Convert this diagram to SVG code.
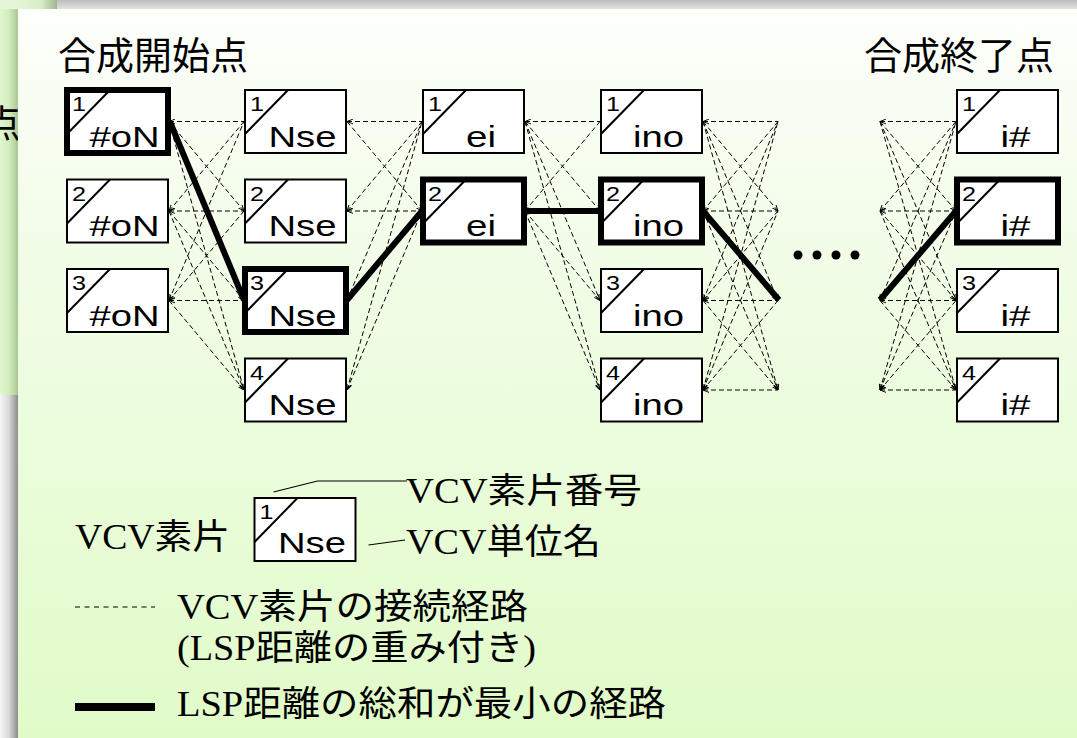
<svg xmlns="http://www.w3.org/2000/svg" width="1077" height="738" viewBox="0 0 1077 738">
<defs>
<linearGradient id="gPanel" x1="0" y1="0" x2="0" y2="1">
<stop offset="0" stop-color="#fdfffb"/>
<stop offset="0.35" stop-color="#f1fde7"/>
<stop offset="1" stop-color="#e1fbc8"/>
</linearGradient>
<linearGradient id="gTop" x1="0" y1="0" x2="0" y2="1">
<stop offset="0" stop-color="#bcbcbc"/>
<stop offset="1" stop-color="#e2e2e2"/>
</linearGradient>
<linearGradient id="gLeftGrey" x1="0" y1="0" x2="1" y2="0">
<stop offset="0" stop-color="#f6f6f6"/>
<stop offset="0.5" stop-color="#d8d8d8"/>
<stop offset="1" stop-color="#8c8c8c"/>
</linearGradient>
<linearGradient id="gLeftGreen" x1="0" y1="0" x2="1" y2="0">
<stop offset="0" stop-color="#e2f6d0"/>
<stop offset="0.5" stop-color="#d2ecbc"/>
<stop offset="1" stop-color="#a9c792"/>
</linearGradient>
<linearGradient id="gCorner" x1="0" y1="0" x2="1" y2="0">
<stop offset="0" stop-color="#e6f6d8"/>
<stop offset="0.6" stop-color="#d6ecc6"/>
<stop offset="1" stop-color="#9fb590"/>
</linearGradient>
<marker id="ah" viewBox="0 0 10 10" refX="10" refY="5" markerWidth="6" markerHeight="6" markerUnits="userSpaceOnUse" orient="auto-start-reverse">
<path d="M0,1 L10,5 L0,9" fill="none" stroke="#000" stroke-width="1.6"/>
</marker>
<style>
.d { stroke:#000; stroke-width:1; stroke-dasharray:5 3; fill:none }
.s { marker-start:url(#ah) }
.e { marker-end:url(#ah) }
.node rect { fill:#fff; stroke:#000; stroke-width:2 }
.node.thick rect { stroke-width:6 }
.node line { stroke:#000; stroke-width:2 }
.num { font-family:"Liberation Sans",Arial,sans-serif; font-size:20px; fill:#000 }
.lbl { font-family:"Liberation Sans",Arial,sans-serif; font-size:30px; text-anchor:middle; fill:#000 }
.jp { font-family:"Liberation Serif","Noto Sans CJK JP",serif; font-size:38px; fill:#000 }
.lg { font-family:"Liberation Serif","Noto Sans CJK JP",serif; font-size:35px; fill:#000 }
.best { stroke:#000; stroke-width:6; fill:none }
</style>
</defs>

<!-- background -->
<rect x="0" y="0" width="1077" height="738" fill="#d4d4d4"/>
<rect x="0" y="0" width="1077" height="9" fill="url(#gTop)"/>
<rect x="0" y="395" width="18" height="343" fill="url(#gLeftGrey)"/>
<rect x="0" y="0" width="57" height="395" fill="#e4f6d4"/>
<rect x="0" y="9" width="18" height="386" fill="url(#gLeftGreen)"/>
<rect x="18" y="0" width="39" height="9" fill="url(#gCorner)"/>
<text class="jp" x="-17" y="137">点</text>
<rect x="18" y="9" width="1059" height="729" fill="url(#gPanel)"/>

<!-- titles -->
<text class="jp" x="58" y="69">合成開始点</text>
<text class="jp" x="864" y="69">合成終了点</text>

<!-- connectors -->
<g id="connectors">
<!-- #oN -> Nse -->
<line class="d s" x1="169" y1="121.5" x2="244" y2="121.5"/>
<line class="d e" x1="169" y1="121.5" x2="244" y2="211"/>
<line class="d e" x1="169" y1="121.5" x2="244" y2="300.5"/>
<line class="d e" x1="169" y1="121.5" x2="244" y2="390"/>
<line class="d s" x1="169" y1="211" x2="244" y2="121.5"/>
<line class="d s" x1="169" y1="211" x2="244" y2="211"/>
<line class="d e" x1="169" y1="211" x2="244" y2="300.5"/>
<line class="d e" x1="169" y1="211" x2="244" y2="390"/>
<line class="d s" x1="169" y1="300.5" x2="244" y2="121.5"/>
<line class="d s" x1="169" y1="300.5" x2="244" y2="211"/>
<line class="d s" x1="169" y1="300.5" x2="244" y2="300.5"/>
<line class="d e" x1="169" y1="300.5" x2="244" y2="390"/>
<!-- Nse -> ei -->
<line class="d s" x1="347" y1="121.5" x2="422" y2="121.5"/>
<line class="d e" x1="347" y1="121.5" x2="422" y2="211"/>
<line class="d s" x1="347" y1="211" x2="422" y2="121.5"/>
<line class="d s" x1="347" y1="211" x2="422" y2="211"/>
<line class="d s" x1="347" y1="300.5" x2="422" y2="121.5"/>
<line class="d s" x1="347" y1="300.5" x2="422" y2="211"/>
<line class="d s" x1="347" y1="390" x2="422" y2="121.5"/>
<line class="d s" x1="347" y1="390" x2="422" y2="211"/>
<!-- ei -> ino -->
<line class="d s" x1="525" y1="121.5" x2="600" y2="121.5"/>
<line class="d e" x1="525" y1="121.5" x2="600" y2="211"/>
<line class="d e" x1="525" y1="121.5" x2="600" y2="300.5"/>
<line class="d e" x1="525" y1="121.5" x2="600" y2="390"/>
<line class="d s" x1="525" y1="211" x2="600" y2="121.5"/>
<line class="d s" x1="525" y1="211" x2="600" y2="211"/>
<line class="d e" x1="525" y1="211" x2="600" y2="300.5"/>
<line class="d e" x1="525" y1="211" x2="600" y2="390"/>
<!-- ino -> continuation -->
<line class="d s" x1="703" y1="121.5" x2="778" y2="121.5"/>
<line class="d e" x1="703" y1="121.5" x2="778" y2="211"/>
<line class="d e" x1="703" y1="121.5" x2="778" y2="300.5"/>
<line class="d e" x1="703" y1="121.5" x2="778" y2="390"/>
<line class="d s" x1="703" y1="211" x2="778" y2="121.5"/>
<line class="d s" x1="703" y1="211" x2="778" y2="211"/>
<line class="d e" x1="703" y1="211" x2="778" y2="300.5"/>
<line class="d e" x1="703" y1="211" x2="778" y2="390"/>
<line class="d s" x1="703" y1="300.5" x2="778" y2="121.5"/>
<line class="d s" x1="703" y1="300.5" x2="778" y2="211"/>
<line class="d s" x1="703" y1="300.5" x2="778" y2="300.5"/>
<line class="d e" x1="703" y1="300.5" x2="778" y2="390"/>
<line class="d s" x1="703" y1="390" x2="778" y2="121.5"/>
<line class="d s" x1="703" y1="390" x2="778" y2="211"/>
<line class="d s" x1="703" y1="390" x2="778" y2="300.5"/>
<line class="d s" x1="703" y1="390" x2="778" y2="390"/>
<!-- continuation -> i# -->
<line class="d s" x1="880" y1="121.5" x2="956" y2="121.5"/>
<line class="d e" x1="880" y1="121.5" x2="956" y2="211"/>
<line class="d e" x1="880" y1="121.5" x2="956" y2="300.5"/>
<line class="d e" x1="880" y1="121.5" x2="956" y2="390"/>
<line class="d s" x1="880" y1="211" x2="956" y2="121.5"/>
<line class="d s" x1="880" y1="211" x2="956" y2="211"/>
<line class="d e" x1="880" y1="211" x2="956" y2="300.5"/>
<line class="d e" x1="880" y1="211" x2="956" y2="390"/>
<line class="d s" x1="880" y1="300.5" x2="956" y2="121.5"/>
<line class="d s" x1="880" y1="300.5" x2="956" y2="211"/>
<line class="d s" x1="880" y1="300.5" x2="956" y2="300.5"/>
<line class="d e" x1="880" y1="300.5" x2="956" y2="390"/>
<line class="d s" x1="880" y1="390" x2="956" y2="121.5"/>
<line class="d s" x1="880" y1="390" x2="956" y2="211"/>
<line class="d s" x1="880" y1="390" x2="956" y2="300.5"/>
<line class="d s" x1="880" y1="390" x2="956" y2="390"/>
<!-- minimum path -->
<line class="best" x1="170" y1="122" x2="244" y2="300"/>
<line class="best" x1="347" y1="300" x2="422" y2="211"/>
<line class="best" x1="525" y1="211" x2="600" y2="211"/>
<line class="best" x1="703" y1="211" x2="779" y2="300"/>
<line class="best" x1="880" y1="300" x2="956" y2="211"/>
</g>

<!-- ellipsis -->
<g id="ellipsis" fill="#000">
<circle cx="798" cy="255" r="4.5"/>
<circle cx="817" cy="255" r="4.5"/>
<circle cx="836" cy="255" r="4.5"/>
<circle cx="855" cy="255" r="4.5"/>
</g>

<!-- nodes: column #oN -->
<g id="oN1" class="node thick"><rect x="67" y="90" width="101" height="63"/><line x1="67" y1="134" x2="110" y2="90"/><text class="num" x="72" y="111" textLength="14" lengthAdjust="spacingAndGlyphs">1</text><text class="lbl" x="124.5" y="146.5" textLength="70" lengthAdjust="spacingAndGlyphs">#oN</text></g>
<g id="oN2" class="node"><rect x="67" y="179.5" width="101" height="63"/><line x1="67" y1="223.5" x2="110" y2="179.5"/><text class="num" x="72" y="200.5" textLength="14" lengthAdjust="spacingAndGlyphs">2</text><text class="lbl" x="124.5" y="236" textLength="70" lengthAdjust="spacingAndGlyphs">#oN</text></g>
<g id="oN3" class="node"><rect x="67" y="269" width="101" height="63"/><line x1="67" y1="313" x2="110" y2="269"/><text class="num" x="72" y="290" textLength="14" lengthAdjust="spacingAndGlyphs">3</text><text class="lbl" x="124.5" y="325.5" textLength="70" lengthAdjust="spacingAndGlyphs">#oN</text></g>

<!-- column Nse -->
<g id="Nse1" class="node"><rect x="245" y="90" width="101" height="63"/><line x1="245" y1="134" x2="288" y2="90"/><text class="num" x="250" y="111" textLength="14" lengthAdjust="spacingAndGlyphs">1</text><text class="lbl" x="302.5" y="146.5" textLength="68" lengthAdjust="spacingAndGlyphs">Nse</text></g>
<g id="Nse2" class="node"><rect x="245" y="179.5" width="101" height="63"/><line x1="245" y1="223.5" x2="288" y2="179.5"/><text class="num" x="250" y="200.5" textLength="14" lengthAdjust="spacingAndGlyphs">2</text><text class="lbl" x="302.5" y="236" textLength="68" lengthAdjust="spacingAndGlyphs">Nse</text></g>
<g id="Nse3" class="node thick"><rect x="245" y="269" width="101" height="63"/><line x1="245" y1="313" x2="288" y2="269"/><text class="num" x="250" y="290" textLength="14" lengthAdjust="spacingAndGlyphs">3</text><text class="lbl" x="302.5" y="325.5" textLength="68" lengthAdjust="spacingAndGlyphs">Nse</text></g>
<g id="Nse4" class="node"><rect x="245" y="358.5" width="101" height="63"/><line x1="245" y1="402.5" x2="288" y2="358.5"/><text class="num" x="250" y="379.5" textLength="14" lengthAdjust="spacingAndGlyphs">4</text><text class="lbl" x="302.5" y="415" textLength="68" lengthAdjust="spacingAndGlyphs">Nse</text></g>

<!-- column ei -->
<g id="ei1" class="node"><rect x="423" y="90" width="101" height="63"/><line x1="423" y1="134" x2="466" y2="90"/><text class="num" x="428" y="111" textLength="14" lengthAdjust="spacingAndGlyphs">1</text><text class="lbl" x="481" y="146.5" textLength="30" lengthAdjust="spacingAndGlyphs">ei</text></g>
<g id="ei2" class="node thick"><rect x="423" y="179.5" width="101" height="63"/><line x1="423" y1="223.5" x2="466" y2="179.5"/><text class="num" x="428" y="200.5" textLength="14" lengthAdjust="spacingAndGlyphs">2</text><text class="lbl" x="481" y="236" textLength="30" lengthAdjust="spacingAndGlyphs">ei</text></g>

<!-- column ino -->
<g id="ino1" class="node"><rect x="601" y="90" width="101" height="63"/><line x1="601" y1="134" x2="644" y2="90"/><text class="num" x="606" y="111" textLength="14" lengthAdjust="spacingAndGlyphs">1</text><text class="lbl" x="658.5" y="146.5" textLength="51" lengthAdjust="spacingAndGlyphs">ino</text></g>
<g id="ino2" class="node thick"><rect x="601" y="179.5" width="101" height="63"/><line x1="601" y1="223.5" x2="644" y2="179.5"/><text class="num" x="606" y="200.5" textLength="14" lengthAdjust="spacingAndGlyphs">2</text><text class="lbl" x="658.5" y="236" textLength="51" lengthAdjust="spacingAndGlyphs">ino</text></g>
<g id="ino3" class="node"><rect x="601" y="269" width="101" height="63"/><line x1="601" y1="313" x2="644" y2="269"/><text class="num" x="606" y="290" textLength="14" lengthAdjust="spacingAndGlyphs">3</text><text class="lbl" x="658.5" y="325.5" textLength="51" lengthAdjust="spacingAndGlyphs">ino</text></g>
<g id="ino4" class="node"><rect x="601" y="358.5" width="101" height="63"/><line x1="601" y1="402.5" x2="644" y2="358.5"/><text class="num" x="606" y="379.5" textLength="14" lengthAdjust="spacingAndGlyphs">4</text><text class="lbl" x="658.5" y="415" textLength="51" lengthAdjust="spacingAndGlyphs">ino</text></g>

<!-- column i# -->
<g id="ih1" class="node"><rect x="957" y="90" width="101" height="63"/><line x1="957" y1="134" x2="1000" y2="90"/><text class="num" x="962" y="111" textLength="14" lengthAdjust="spacingAndGlyphs">1</text><text class="lbl" x="1015.5" y="146.5" textLength="30" lengthAdjust="spacingAndGlyphs">i#</text></g>
<g id="ih2" class="node thick"><rect x="957" y="179.5" width="101" height="63"/><line x1="957" y1="223.5" x2="1000" y2="179.5"/><text class="num" x="962" y="200.5" textLength="14" lengthAdjust="spacingAndGlyphs">2</text><text class="lbl" x="1015.5" y="236" textLength="30" lengthAdjust="spacingAndGlyphs">i#</text></g>
<g id="ih3" class="node"><rect x="957" y="269" width="101" height="63"/><line x1="957" y1="313" x2="1000" y2="269"/><text class="num" x="962" y="290" textLength="14" lengthAdjust="spacingAndGlyphs">3</text><text class="lbl" x="1015.5" y="325.5" textLength="30" lengthAdjust="spacingAndGlyphs">i#</text></g>
<g id="ih4" class="node"><rect x="957" y="358.5" width="101" height="63"/><line x1="957" y1="402.5" x2="1000" y2="358.5"/><text class="num" x="962" y="379.5" textLength="14" lengthAdjust="spacingAndGlyphs">4</text><text class="lbl" x="1015.5" y="415" textLength="30" lengthAdjust="spacingAndGlyphs">i#</text></g>

<!-- legend -->
<g id="legend">
<g id="legend-node" class="node"><rect x="254.5" y="498" width="101" height="63"/><line x1="254.5" y1="542" x2="297.5" y2="498"/><text class="num" x="259.5" y="519" textLength="14" lengthAdjust="spacingAndGlyphs">1</text><text class="lbl" x="312" y="553" textLength="68" lengthAdjust="spacingAndGlyphs">Nse</text></g>
<polyline points="273.5,492 317.5,481 407,481" fill="none" stroke="#000" stroke-width="1.2"/>
<line x1="368.5" y1="545" x2="405" y2="540" stroke="#000" stroke-width="1.2"/>
<text class="lg" x="406" y="503" textLength="236" lengthAdjust="spacingAndGlyphs">VCV素片番号</text>
<text class="lg" x="75" y="549" textLength="155" lengthAdjust="spacingAndGlyphs">VCV素片</text>
<text class="lg" x="406" y="554" textLength="195" lengthAdjust="spacingAndGlyphs">VCV単位名</text>
<line x1="75" y1="607" x2="155" y2="607" stroke="#000" stroke-width="1" stroke-dasharray="5 4.5"/>
<text class="lg" x="177" y="619" textLength="351" lengthAdjust="spacingAndGlyphs">VCV素片の接続経路</text>
<text class="lg" x="177" y="660" textLength="359" lengthAdjust="spacingAndGlyphs">(LSP距離の重み付き)</text>
<line x1="75" y1="707" x2="155" y2="707" stroke="#000" stroke-width="8"/>
<text class="lg" x="177" y="716" textLength="489" lengthAdjust="spacingAndGlyphs">LSP距離の総和が最小の経路</text>
</g>
</svg>
